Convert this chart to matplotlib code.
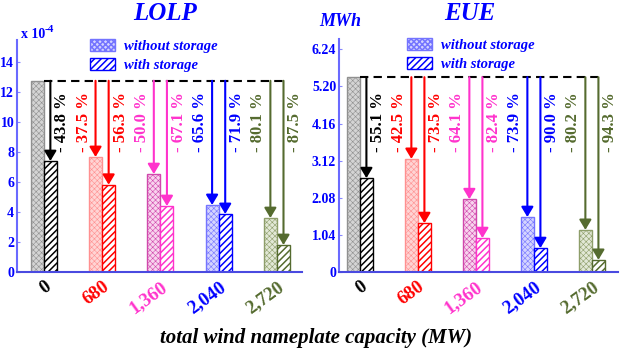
import matplotlib
matplotlib.use("Agg")
import matplotlib.pyplot as plt
import matplotlib.transforms as mtransforms
from matplotlib.patches import Patch

plt.rcParams['font.family'] = ['Liberation Serif', 'DejaVu Serif']
plt.rcParams['hatch.linewidth'] = 1.1

# ---------------- data ----------------
categories = ['0', '680', '1,360', '2,040', '2,720']
cat_colors = ['black', 'red', '#FF33CC', 'blue', '#556B2F']
light_fill = ['#D4D4D4', '#FFD4D4', '#F8D4EE', '#D4D4FF', '#E2E8D6']
light_edge = ['#909090', '#FF9090', '#D048AC', '#7474FF', '#8E9E6A']

lolp_without = [12.75, 7.67, 6.53, 4.47, 3.60]
lolp_with = [7.40, 5.82, 4.40, 3.87, 1.80]
lolp_pct_without = [None, '37.5', '50.0', '65.6', '80.1']
lolp_pct_with = ['43.8', '56.3', '67.1', '71.9', '87.5']

eue_without = [5.46, 3.17, 2.04, 1.54, 1.18]
eue_with = [2.63, 1.37, 0.95, 0.67, 0.34]
eue_pct_without = [None, '42.5', '64.1', '73.9', '80.2']
eue_pct_with = ['55.1', '73.5', '82.4', '90.0', '94.3']

lolp_ticks = [0, 2, 4, 6, 8, 10, 12, 14]
lolp_ticklabels = ['0', '2', '4', '6', '8', '10', '12', '14']
eue_ticks = [0, 1.04, 2.08, 3.12, 4.16, 5.20, 6.24]
eue_ticklabels = ['0', '1.04', '2.08', '3.12', '4.16', '5.20', '6.24']

# ---------------- figure ----------------
fig = plt.figure(figsize=(6.2, 3.54), dpi=100)
axL = fig.add_axes([17/620, 1-272/354, 285/620, 232/354])
axR = fig.add_axes([339/620, 1-272/354, 279/620, 233/354])

W = 0.225


def light_bar(ax, x, h, i):
    with plt.rc_context({'hatch.linewidth': 0.4}):
        b = ax.bar(x, h, W, color=light_fill[i], edgecolor=light_edge[i],
                   hatch='xxxxxx', linewidth=1.0, zorder=2)
    for p in b:
        if hasattr(p, 'set_hatch_linewidth'):
            p.set_hatch_linewidth(0.4)
    return b


def dark_bar(ax, x, h, i):
    with plt.rc_context({'hatch.linewidth': 1.1}):
        b = ax.bar(x, h, W, color='white', edgecolor=cat_colors[i],
                   hatch='/////', linewidth=1.0, zorder=2)
    for p in b:
        if hasattr(p, 'set_hatch_linewidth'):
            p.set_hatch_linewidth(1.1)
    return b


def draw_panel(ax, without, with_, pct_wo, pct_w, ymax, xlim, ticks, ticklabels):
    x = list(range(len(categories)))
    for i in x:
        light_bar(ax, i - W/2, without[i], i)
        dark_bar(ax, i + W/2, with_[i], i)
    base = without[0]
    ax.plot([0, x[-1] + W/2], [base, base], color='black', lw=1.5,
            dashes=(4, 2.5), zorder=3)
    ytr = mtransforms.blended_transform_factory(ax.transData, ax.transAxes)
    for i in x:
        targets = []
        if pct_wo[i] is not None:
            targets.append((i - W/2, without[i], pct_wo[i], 'right', -4))
        targets.append((i + W/2, with_[i], pct_w[i], 'left', 4))
        for xx, yy, lab, ha, off in targets:
            ax.annotate('', xy=(xx, yy), xytext=(xx, base),
                        arrowprops=dict(arrowstyle='-|>,head_length=0.6,head_width=0.36',
                                        mutation_scale=10, color=cat_colors[i], lw=1.5,
                                        shrinkA=0, shrinkB=0), zorder=4)
            tt = ytr + mtransforms.ScaledTranslation(off/100, 0, fig.dpi_scale_trans)
            ax.text(xx, 0.645, '- ' + lab + ' %', rotation=90, ha=ha, va='center',
                    color=cat_colors[i], fontsize=12, fontweight='bold', transform=tt)
    ax.set_xlim(*xlim)
    ax.set_ylim(0, ymax)
    ax.set_yticks(ticks)
    ax.set_yticklabels(ticklabels, color='blue', fontsize=10, fontweight='bold')
    ax.tick_params(axis='y', direction='in', length=2, width=0.8, colors='#8888FF',
                   labelcolor='blue', pad=2)
    ax.set_xticks(x)
    ax.set_xticklabels([])
    ax.tick_params(axis='x', length=0)
    lab_tr = ytr + mtransforms.ScaledTranslation(10/100, -6/100, fig.dpi_scale_trans)
    for i in x:
        ax.text(i, 0, categories[i], rotation=36, ha='right', va='top',
                color=cat_colors[i], fontsize=13.5, fontweight='bold', transform=lab_tr)
    for s in ['top', 'right']:
        ax.spines[s].set_visible(False)
    ax.spines['left'].set_color('#6A6AFF')
    ax.spines['left'].set_linewidth(1.5)
    ax.spines['bottom'].set_color('#4A4AE0')
    ax.spines['bottom'].set_linewidth(1.5)
    with plt.rc_context({'hatch.linewidth': 0.4}):
        h1 = Patch(facecolor='#D4D4FF', edgecolor='#7474FF', hatch='xxxxxx', lw=1.0)
    with plt.rc_context({'hatch.linewidth': 1.1}):
        h2 = Patch(facecolor='white', edgecolor='blue', hatch='/////', lw=1.0)
    return [h1, h2]


hL = draw_panel(axL, lolp_without, lolp_with, lolp_pct_without, lolp_pct_with,
                15.47, (-0.46, 4.43), lolp_ticks, lolp_ticklabels)
hR = draw_panel(axR, eue_without, eue_with, eue_pct_without, eue_pct_with,
                6.53, (-0.36, 4.45), eue_ticks, eue_ticklabels)

legfont = dict(family='Liberation Serif', weight='bold', style='italic', size=10.5)
for ax, h, xa in [(axL, hL, 0.256), (axR, hR, 0.244)]:
    leg = ax.legend(h, ['without storage', 'with storage'], loc='upper left',
                    bbox_to_anchor=(xa, 1.005), frameon=False, prop=legfont,
                    handlelength=1.7, handleheight=0.9, handletextpad=0.6,
                    labelspacing=0.35, borderpad=0, borderaxespad=0)
    for t in leg.get_texts():
        t.set_color('blue')

fig.text(165/620, 1-14/354, 'LOLP', ha='center', va='center', color='blue',
         fontsize=18, fontweight='bold', style='italic')
fig.text(470/620, 1-14/354, 'EUE', ha='center', va='center', color='blue',
         fontsize=18, fontweight='bold', style='italic')
fig.text(340/620, 1-21/354, 'MWh', ha='center', va='center', color='blue',
         fontsize=13, fontweight='bold', style='italic')
fig.text(21/620, 1-38/354, 'x 10', ha='left', va='baseline', color='blue',
         fontsize=10, fontweight='bold')
fig.text(45/620, 1-32/354, '-4', ha='left', va='baseline', color='blue',
         fontsize=8, fontweight='bold')
fig.text(316/620, 1-338/354, 'total wind nameplate capacity (MW)', ha='center',
         va='center', color='black', fontsize=15, fontweight='bold', style='italic')

fig.savefig('out.png', dpi=100)
